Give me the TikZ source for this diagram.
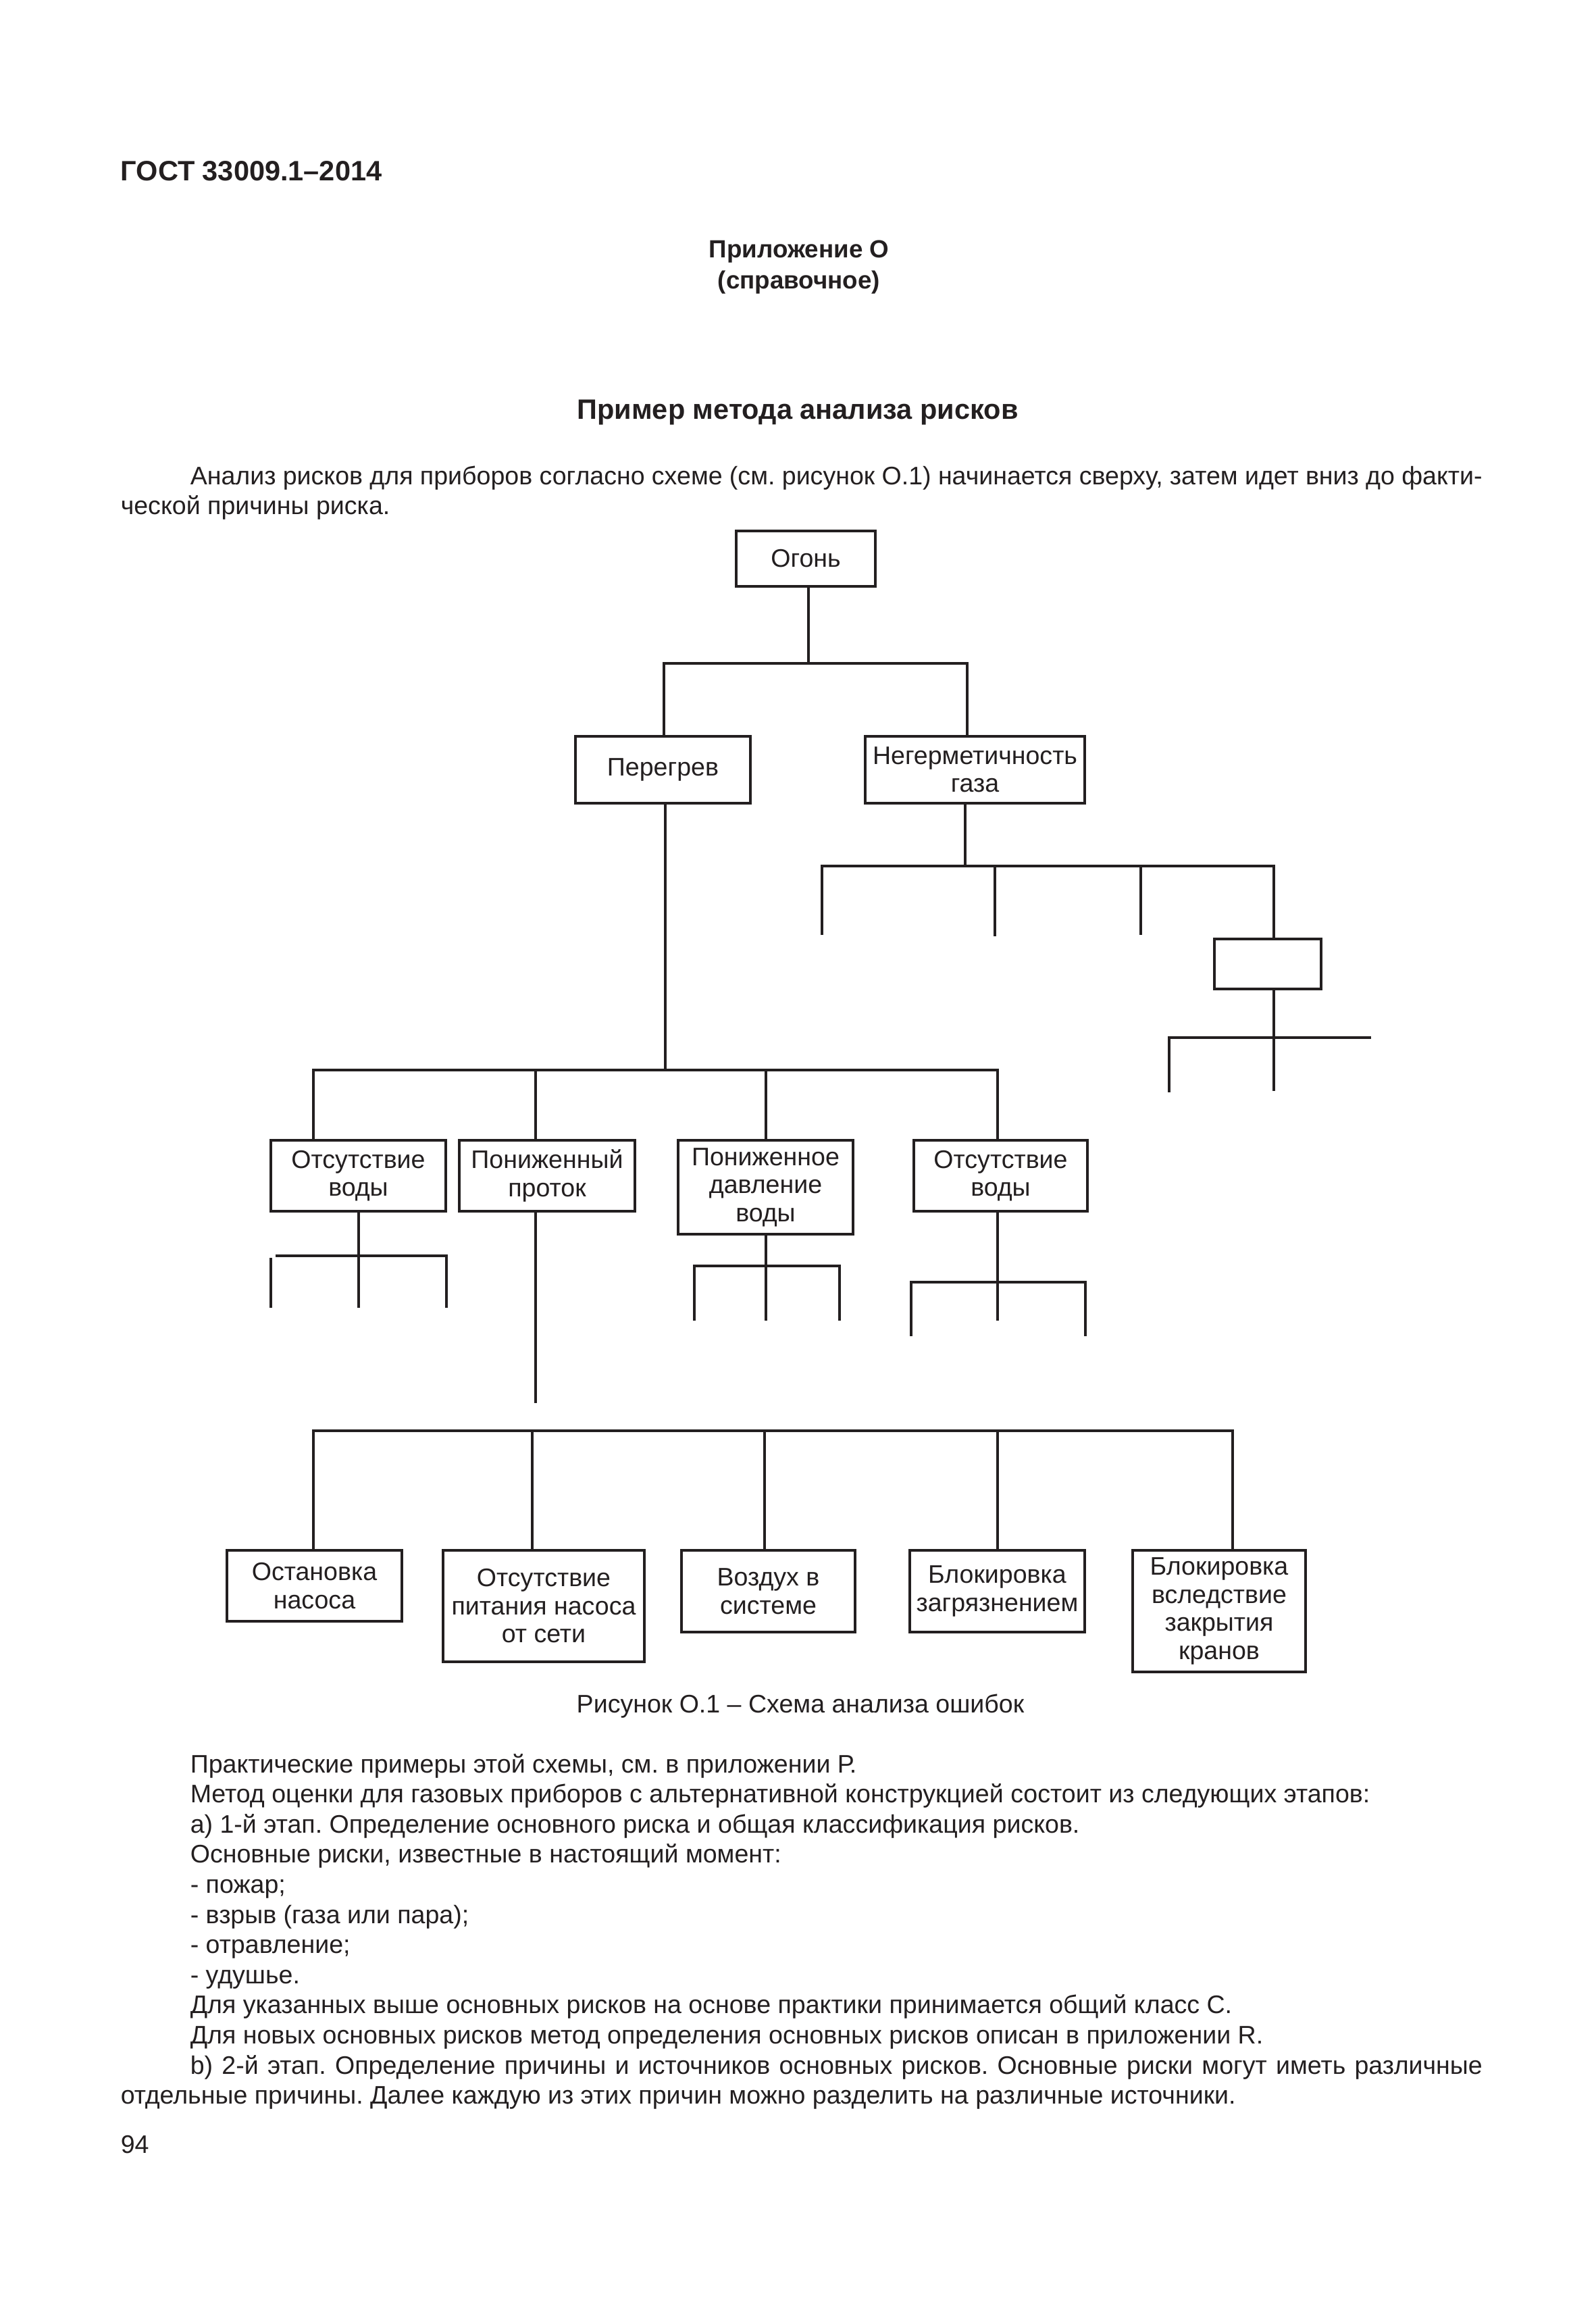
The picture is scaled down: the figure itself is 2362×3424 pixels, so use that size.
\documentclass[tikz,border=0pt]{standalone}
\usepackage{fontspec}
\setmainfont{Liberation Sans}
\frenchspacing
\definecolor{ink}{HTML}{231F20}
\newcommand{\mybox}[6]{\node[box, minimum width={#4*0.088907mm}, minimum height={#5*0.088907mm}] (#1) at (#2,#3) {#6};}
\begin{document}
\frenchspacing
\begin{tikzpicture}[x=0.088907mm,y=-0.088907mm,
  box/.style={draw=ink, line width=0.9pt, align=center, inner sep=0pt, text=ink, font=\fontsize{9.5pt}{10.5pt}\selectfont},
  conn/.style={draw=ink, line width=0.9pt},
  txt/.style={anchor=base west, inner sep=0pt, text=ink, font=\fontsize{9.5pt}{11.4pt}\selectfont},
  ctxt/.style={anchor=base, inner sep=0pt, text=ink, font=\fontsize{9.5pt}{11.4pt}\selectfont}]
\useasboundingbox[fill=white] (0,0) rectangle (2362,3424);

% header texts
\node[txt, font=\fontsize{10.5pt}{12pt}\selectfont\bfseries] (gost) at (178,268) {ГОСТ 33009.1–2014};
\node[ctxt, font=\fontsize{9.3pt}{12pt}\selectfont\bfseries] (app) at (1183,382) {Приложение О};
\node[ctxt, font=\fontsize{9.3pt}{12pt}\selectfont\bfseries] (spr) at (1183,428) {(справочное)};
\node[ctxt, font=\fontsize{10.5pt}{13pt}\selectfont\bfseries] (title) at (1181,620) {Пример метода анализа рисков};
\node[txt] (p1a) at (281,717) {\makebox[170.08mm][s]{Анализ рисков для приборов согласно схеме (см. рисунок О.1) начинается сверху, затем идет вниз до факти-}};
\node[txt] (p1b) at (178,761) {ческой причины риска.};

% tree boxes
\mybox{ogon}{1193}{827}{206}{82}{Огонь}
\mybox{peregrev}{981.5}{1139.5}{259}{99}{Перегрев}
\mybox{negerm}{1443.5}{1139.5}{325}{99}{Негерметичность\\газа}
\mybox{small}{1877}{1427}{158}{74}{}
\mybox{b31}{530.5}{1740.5}{259}{105}{Отсутствие\\воды}
\mybox{b32}{810}{1740.5}{260}{105}{Пониженный\\проток}
\mybox{b33}{1133.5}{1757.5}{259}{139}{Пониженное\\давление\\воды}
\mybox{b34}{1481.5}{1740.5}{257}{105}{Отсутствие\\воды}
\mybox{b41}{465.5}{2347.5}{259}{105}{Остановка\\насоса}
\mybox{b42}{805}{2377.5}{298}{165}{Отсутствие\\питания насоса\\от сети}
\mybox{b43}{1137.5}{2355.5}{257}{121}{Воздух в\\системе}
\mybox{b44}{1476.5}{2355.5}{259}{121}{Блокировка\\загрязнением}
\mybox{b45}{1805}{2385}{256}{180}{Блокировка\\вследствие\\закрытия\\кранов}

% junction coordinates
\coordinate (j0) at (1197,982);
\coordinate (j1) at (983,982);
\coordinate (j2) at (1432,982);
\coordinate (n0) at (1429,1282);
\coordinate (n1) at (1217,1282);
\coordinate (n2) at (1473,1282);
\coordinate (n3) at (1689,1282);
\coordinate (n4) at (1886,1282);
\coordinate (s1) at (1217,1384);
\coordinate (s2) at (1473,1386);
\coordinate (s3) at (1689,1384);
\coordinate (m0) at (1886,1536);
\coordinate (m1) at (1731,1536);
\coordinate (m2) at (2030,1536);
\coordinate (s4) at (1731,1617);
\coordinate (s5) at (1886,1615);
\coordinate (p0) at (985,1584);
\coordinate (p1) at (464,1584);
\coordinate (p2) at (793,1584);
\coordinate (p3) at (1134,1584);
\coordinate (p4) at (1477,1584);
\coordinate (a0) at (531,1859);
\coordinate (a1) at (408,1859);
\coordinate (a2) at (661,1859);
\coordinate (a3) at (401,1862);
\coordinate (ae0) at (531,1936);
\coordinate (ae1) at (401,1936);
\coordinate (ae2) at (661,1936);
\coordinate (c0) at (1134,1874);
\coordinate (c1) at (1028,1874);
\coordinate (c2) at (1243,1874);
\coordinate (ce0) at (1134,1955);
\coordinate (ce1) at (1028,1955);
\coordinate (ce2) at (1243,1955);
\coordinate (d0) at (1477,1898);
\coordinate (d1) at (1349,1898);
\coordinate (d2) at (1607,1898);
\coordinate (de0) at (1477,1955);
\coordinate (de1) at (1349,1978);
\coordinate (de2) at (1607,1978);
\coordinate (q0) at (793,2077);
\coordinate (r1) at (464,2118);
\coordinate (r2) at (788,2118);
\coordinate (r3) at (1132,2118);
\coordinate (r4) at (1477,2118);
\coordinate (r5) at (1825,2118);

% connectors
\draw[conn] (ogon.south -| j0) -- (j0);
\draw[conn] (j1 |- peregrev.north) -- (j1) -- (j2) -- (j2 |- negerm.north);
\draw[conn] (negerm.south -| n0) -- (n0);
\draw[conn] (s1) -- (n1) -- (n4) -- (n4 |- small.north);
\draw[conn] (n2) -- (s2);
\draw[conn] (n3) -- (s3);
\draw[conn] (small.south -| m0) -- (s5);
\draw[conn] (s4) -- (m1) -- (m2);
\draw[conn] (peregrev.south -| p0) -- (p0);
\draw[conn] (p1 |- b31.north) -- (p1) -- (p4) -- (p4 |- b34.north);
\draw[conn] (p2) -- (p2 |- b32.north);
\draw[conn] (p3) -- (p3 |- b33.north);
\draw[conn] (b31.south -| a0) -- (ae0);
\draw[conn] (a1) -- (a2) -- (ae2);
\draw[conn] (a3) -- (ae1);
\draw[conn] (b33.south -| c0) -- (ce0);
\draw[conn] (ce1) -- (c1) -- (c2) -- (ce2);
\draw[conn] (b34.south -| d0) -- (de0);
\draw[conn] (de1) -- (d1) -- (d2) -- (de2);
\draw[conn] (b32.south -| q0) -- (q0);
\draw[conn] (r1 |- b41.north) -- (r1) -- (r5) -- (r5 |- b45.north);
\draw[conn] (r2) -- (r2 |- b42.north);
\draw[conn] (r3) -- (r3 |- b43.north);
\draw[conn] (r4) -- (r4 |- b44.north);

% caption and following text
\node[ctxt] (cap) at (1185,2535) {Рисунок О.1 – Схема анализа ошибок};
\node[txt] (l1) at (281,2624) {Практические примеры этой схемы, см. в приложении Р.};
\node[txt] (l2) at (281,2668.6) {Метод оценки для газовых приборов с альтернативной конструкцией состоит из следующих этапов:};
\node[txt] (l3) at (281,2713.2) {a) 1-й этап. Определение основного риска и общая классификация рисков.};
\node[txt] (l4) at (281,2757.8) {Основные риски, известные в настоящий момент:};
\node[txt] (l5) at (281,2802.4) {- пожар;};
\node[txt] (l6) at (281,2847) {- взрыв (газа или пара);};
\node[txt] (l7) at (281,2891.6) {- отравление;};
\node[txt] (l8) at (281,2936.2) {- удушье.};
\node[txt] (l9) at (281,2980.8) {Для указанных выше основных рисков на основе практики принимается общий класс С.};
\node[txt] (l10) at (281,3025.4) {Для новых основных рисков метод определения основных рисков описан в приложении R.};
\node[txt] (l11) at (281,3070) {\makebox[170.08mm][s]{b) 2-й этап. Определение причины и источников основных рисков. Основные риски могут иметь различные}};
\node[txt] (l12) at (178,3114.6) {отдельные причины. Далее каждую из этих причин можно разделить на различные источники.};
\node[txt] (pg) at (178,3187) {94};
\end{tikzpicture}
\end{document}
